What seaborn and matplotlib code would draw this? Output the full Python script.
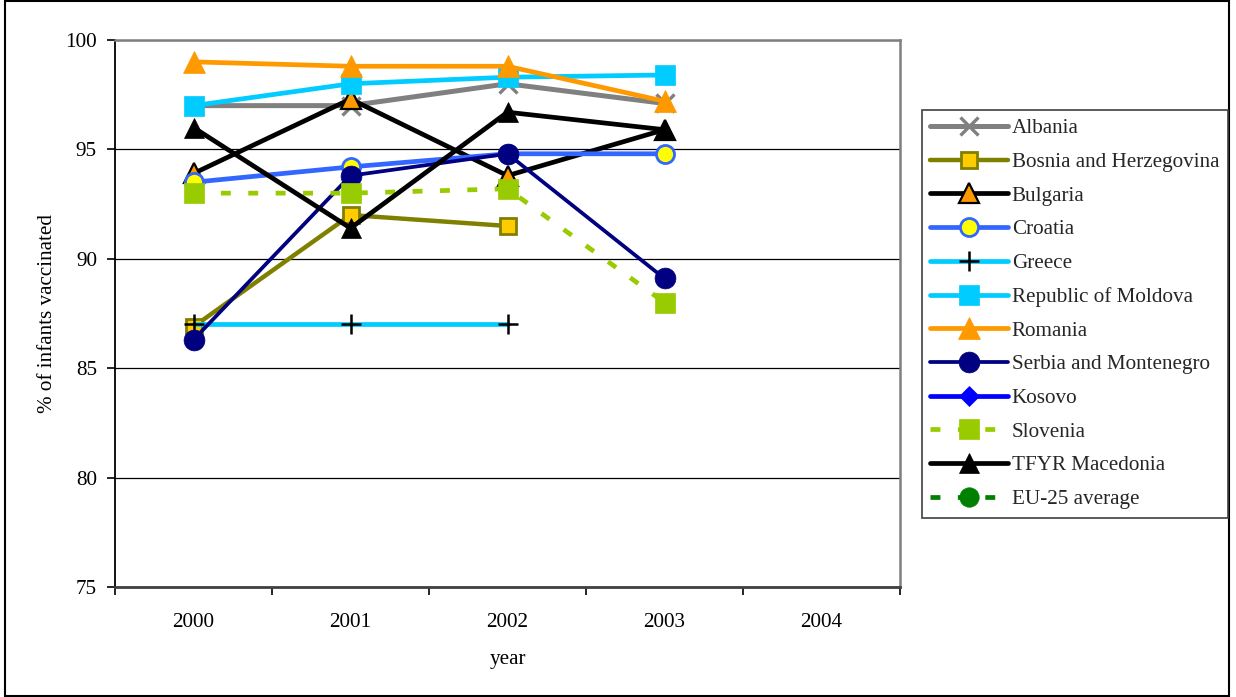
import numpy as np
import pandas as pd
import matplotlib
matplotlib.use("Agg")
import matplotlib.pyplot as plt
from matplotlib.lines import Line2D
from matplotlib.patches import Rectangle
import seaborn as sns

nan = np.nan

# Immunization coverage, % of infants vaccinated
years = [2000, 2001, 2002, 2003, 2004]
albania = [97.0, 97.0, 98.0, 97.1, nan]
bosnia = [86.9, 92.0, 91.5, nan, nan]
bulgaria = [93.9, 97.3, 93.8, 95.9, nan]
croatia = [93.5, 94.2, 94.8, 94.8, nan]
greece = [87.0, 87.0, 87.0, nan, nan]
moldova = [97.0, 98.0, 98.3, 98.4, nan]
romania = [99.0, 98.8, 98.8, 97.2, nan]
serbia = [86.3, 93.8, 94.8, 89.1, nan]
kosovo = [nan, nan, nan, nan, nan]
slovenia = [93.0, 93.0, 93.2, 88.0, nan]
macedonia = [96.0, 91.4, 96.7, 95.9, nan]
eu25 = [nan, nan, nan, nan, nan]

series_names = ["Albania", "Bosnia and Herzegovina", "Bulgaria", "Croatia",
                "Greece", "Republic of Moldova", "Romania",
                "Serbia and Montenegro", "Kosovo", "Slovenia",
                "TFYR Macedonia", "EU-25 average"]
series_values = [albania, bosnia, bulgaria, croatia, greece, moldova, romania,
                 serbia, kosovo, slovenia, macedonia, eu25]

y_ticks = [75, 80, 85, 90, 95, 100]

dash = (0, (2.1, 3.7))
styles = {
    "Albania": dict(color="#808080", lw=3.6, marker="x", ms=13, mew=2.4,
                    mfc="#808080", mec="#808080"),
    "Bosnia and Herzegovina": dict(color="#808000", lw=3.2, marker="s", ms=12,
                                   mew=2.0, mfc="#FFCC00", mec="#808000"),
    "Bulgaria": dict(color="black", lw=3.4, marker="^", ms=14, mew=1.6,
                     mfc="#FF9900", mec="black"),
    "Croatia": dict(color="#3366FF", lw=3.4, marker="o", ms=13, mew=2.0,
                    mfc="#FFFF00", mec="#3366FF"),
    "Greece": dict(color="#00CCFF", lw=3.4, marker="+", ms=14, mew=1.8,
                   mfc="black", mec="black"),
    "Republic of Moldova": dict(color="#00CCFF", lw=3.4, marker="s", ms=15,
                                mew=0.5, mfc="#00CCFF", mec="#00CCFF"),
    "Romania": dict(color="#FF9900", lw=3.4, marker="^", ms=16, mew=0.5,
                    mfc="#FF9900", mec="#FF9900"),
    "Serbia and Montenegro": dict(color="#000080", lw=2.7, marker="o", ms=15,
                                  mew=0.5, mfc="#000080", mec="#000080"),
    "Kosovo": dict(color="#0000FF", lw=3.4, marker="D", ms=10, mew=0.5,
                   mfc="#0000FF", mec="#0000FF"),
    "Slovenia": dict(color="#99CC00", lw=3.4, ls=dash, marker="s", ms=15,
                     mew=0.5, mfc="#99CC00", mec="#99CC00",
                     dash_capstyle="butt"),
    "TFYR Macedonia": dict(color="black", lw=3.4, marker="^", ms=15, mew=0.5,
                           mfc="black", mec="black"),
    "EU-25 average": dict(color="#008000", lw=3.4, ls=dash, marker="o", ms=14,
                          mew=0.5, mfc="#008000", mec="#008000",
                          dash_capstyle="butt"),
}

df = pd.DataFrame({"year": np.tile(years, len(series_names)),
                   "country": np.repeat(series_names, len(years)),
                   "value": np.concatenate(series_values)})

sns.set_theme(style="white")
plt.rcParams["font.family"] = ["Liberation Serif", "DejaVu Serif"]
FS = 15.2

fig = plt.figure(figsize=(12.36, 6.97), dpi=100)
ax = fig.add_axes([115 / 1236, 1 - 587 / 697, 785 / 1236, 547 / 697])

handles = []
for name in series_names:
    st = styles[name]
    sub = df[df["country"] == name].dropna()
    if len(sub):
        sns.lineplot(data=sub, x="year", y="value", ax=ax, errorbar=None,
                     sort=False, estimator=None, legend=False, **st)
    handles.append(Line2D([], [], **st))

# Axes styling
ax.set_xlim(1999.5, 2004.5)
ax.set_ylim(75, 100)
ax.set_yticks(y_ticks)
ax.set_xticks(years)
ax.set_xticks(np.arange(1999.5, 2005, 1.0), minor=True)
ax.tick_params(axis="x", which="major", length=0, pad=19, labelsize=FS,
               colors="black")
ax.tick_params(axis="x", which="minor", length=6, width=1.2, color="black",
               direction="out", bottom=True)
ax.tick_params(axis="y", which="major", length=6, width=1.2, color="black",
               direction="out", left=True, pad=7, labelsize=FS,
               labelcolor="black")
ax.yaxis.grid(True, color="black", lw=0.9)
ax.xaxis.grid(False)
ax.set_axisbelow(True)
for side in ["top", "right"]:
    ax.spines[side].set_color("#808080")
    ax.spines[side].set_linewidth(1.8)
ax.spines["left"].set_color("black")
ax.spines["left"].set_linewidth(1.3)
ax.spines["bottom"].set_color("#404040")
ax.spines["bottom"].set_linewidth(2.0)
for sp in ax.spines.values():
    sp.set_zorder(3)

ax.set_xlabel("year", fontsize=FS, labelpad=13, color="black")
ax.set_ylabel("% of infants vaccinated", fontsize=FS, labelpad=6,
              color="black")

leg = fig.legend(handles, series_names, loc="upper left",
                 bbox_to_anchor=(922 / 1236, 1 - 110 / 697),
                 bbox_transform=fig.transFigure, fontsize=FS,
                 frameon=True, fancybox=False, edgecolor="#404040",
                 framealpha=1, handlelength=3.65, handletextpad=0.2,
                 labelspacing=0.66, borderpad=0.4, borderaxespad=0)
leg.get_frame().set_linewidth(1.2)

# Outer border of the chart
fig.patches.append(Rectangle((5 / 1236, 1 / 697), 1224 / 1236, 695 / 697,
                             transform=fig.transFigure, fill=False,
                             edgecolor="black", lw=1.5))

fig.savefig("out.png", dpi=100, facecolor="white")
